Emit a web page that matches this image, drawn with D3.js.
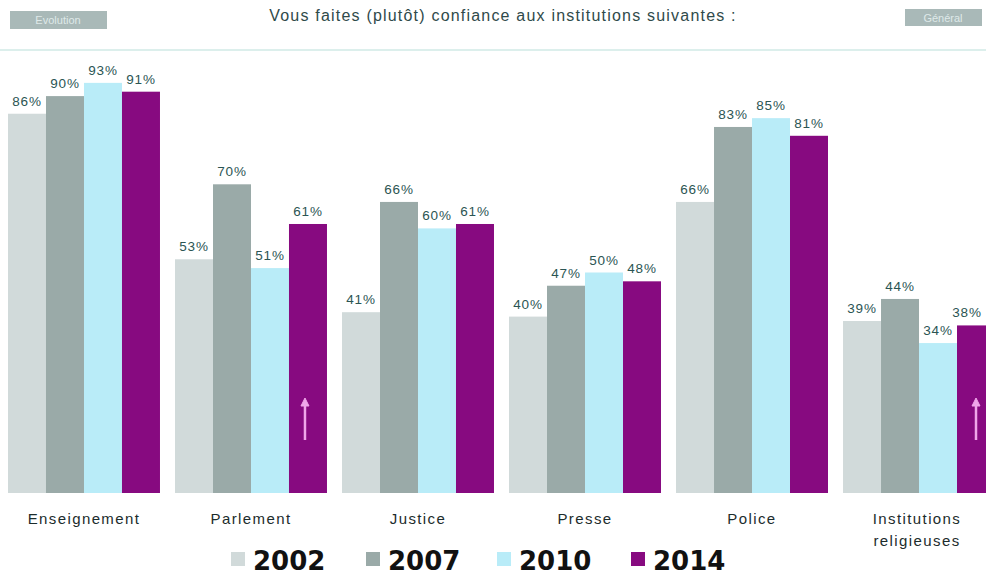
<!DOCTYPE html>
<html>
<head>
<meta charset="utf-8">
<script src="https://cdn.jsdelivr.net/npm/d3@7"></script>
<style>
  body { margin: 0; background: #fff; }
  svg { display: block; }
</style>
</head>
<body>
<div id="chart"></div>
<script>
// Confidence in institutions, by survey year

const categories = ["Enseignement", "Parlement", "Justice", "Presse", "Police", "Institutions religieuses"];
const years = ["2002", "2007", "2010", "2014"];
const values2002 = [86, 53, 41, 40, 66, 39];
const values2007 = [90, 70, 66, 47, 83, 44];
const values2010 = [93, 51, 60, 50, 85, 34];
const values2014 = [91, 61, 61, 48, 81, 38];
const seriesValues = [values2002, values2007, values2010, values2014];
const yearColors = ["#d1dada", "#9aaaa8", "#b9ecf8", "#870a80"];

const W = 986, H = 577;
const baseline = 493;
const font = "Liberation Sans, Arial, sans-serif";

const svg = d3.select("#chart").append("svg")
    .attr("width", W)
    .attr("height", H);

// header bits
svg.append("rect")
    .attr("x", 10).attr("y", 11).attr("width", 97).attr("height", 18)
    .attr("fill", "#a9b9b8");
svg.append("text")
    .attr("x", 58).attr("y", 24)
    .attr("text-anchor", "middle")
    .attr("font-family", font)
    .attr("font-size", 11)
    .attr("fill", "#dfe9e9")
    .text("Evolution");

svg.append("rect")
    .attr("x", 905).attr("y", 9).attr("width", 77).attr("height", 17)
    .attr("fill", "#a9b9b8");
svg.append("text")
    .attr("x", 943).attr("y", 22)
    .attr("text-anchor", "middle")
    .attr("font-family", font)
    .attr("font-size", 11)
    .attr("fill", "#dfe9e9")
    .text("Général");

svg.append("text")
    .attr("x", 503).attr("y", 21)
    .attr("text-anchor", "middle")
    .attr("font-family", font)
    .attr("font-size", 16)
    .attr("letter-spacing", 1.2)
    .attr("fill", "#2f4a4a")
    .text("Vous faites (plutôt) confiance aux institutions suivantes :");

svg.append("line")
    .attr("x1", 0).attr("x2", W)
    .attr("y1", 50).attr("y2", 50)
    .attr("stroke", "#dcefec")
    .attr("stroke-width", 2);

// scales
const x0 = d3.scaleBand()
    .domain(categories)
    .range([8, 995])
    .paddingInner(0.09)
    .paddingOuter(0);

const x1 = d3.scaleBand()
    .domain(years)
    .range([0, x0.bandwidth()]);

const y = d3.scaleLinear()
    .domain([0, 100])
    .range([baseline, baseline - 441]);

const rows = [];
categories.forEach((c, ci) => {
    years.forEach((yr, yi) => {
        rows.push({ cat: c, year: yr, value: seriesValues[yi][ci], color: yearColors[yi] });
    });
});

const bars = svg.append("g");

bars.selectAll("rect")
    .data(rows)
    .enter()
    .append("rect")
    .attr("x", d => x0(d.cat) + x1(d.year))
    .attr("y", d => y(d.value))
    .attr("width", x1.bandwidth())
    .attr("height", d => y(0) - y(d.value))
    .attr("fill", d => d.color);

// value labels, kept inside the right edge
bars.selectAll("text")
    .data(rows)
    .enter()
    .append("text")
    .attr("x", d => Math.min(x0(d.cat) + x1(d.year) + x1.bandwidth() / 2, W - 19))
    .attr("y", d => y(d.value) - 8)
    .attr("text-anchor", "middle")
    .attr("font-family", font)
    .attr("font-size", 13.5)
    .attr("letter-spacing", 0.8)
    .attr("fill", "#2b5553")
    .text(d => d.value + "%");

// small up arrows on 2014 bars (Parlement, Institutions religieuses)
["Parlement", "Institutions religieuses"].forEach(c => {
    const cx = x0(c) + x1("2014") + x1.bandwidth() / 2 + (c === "Parlement" ? -3 : 0);
    const g = svg.append("g").attr("stroke", "#f0a6ea").attr("fill", "#f0a6ea");
    g.append("line")
        .attr("x1", cx).attr("x2", cx)
        .attr("y1", 404).attr("y2", 440)
        .attr("stroke-width", 2.5);
    g.append("path")
        .attr("d", `M${cx - 4},${406} L${cx},${398} L${cx + 4},${406} Z`)
        .attr("stroke-width", 1);
});

// category labels
const catLabels = svg.append("g")
    .attr("font-family", font)
    .attr("font-size", 15)
    .attr("letter-spacing", 1.4)
    .attr("fill", "#1c2c2c")
    .attr("text-anchor", "middle");

categories.forEach(c => {
    const cx = x0(c) + x0.bandwidth() / 2;
    const words = c === "Institutions religieuses" ? ["Institutions", "religieuses"] : [c];
    words.forEach((w, i) => {
        catLabels.append("text")
            .attr("x", cx - (words.length > 1 ? 2 : 0))
            .attr("y", 524 + i * 22)
            .text(w);
    });
});

// legend
const legendX = [231, 366, 497, 631];
const legend = svg.append("g");
years.forEach((yr, i) => {
    legend.append("rect")
        .attr("x", legendX[i]).attr("y", 552)
        .attr("width", 14).attr("height", 14)
        .attr("fill", yearColors[i]);
    legend.append("text")
        .attr("x", legendX[i] + 22).attr("y", 570)
        .attr("font-family", "DejaVu Sans, Verdana, sans-serif")
        .attr("font-weight", "bold")
        .attr("font-size", 26)
        .attr("fill", "#111")
        .text(yr);
});
</script>
</body>
</html>
